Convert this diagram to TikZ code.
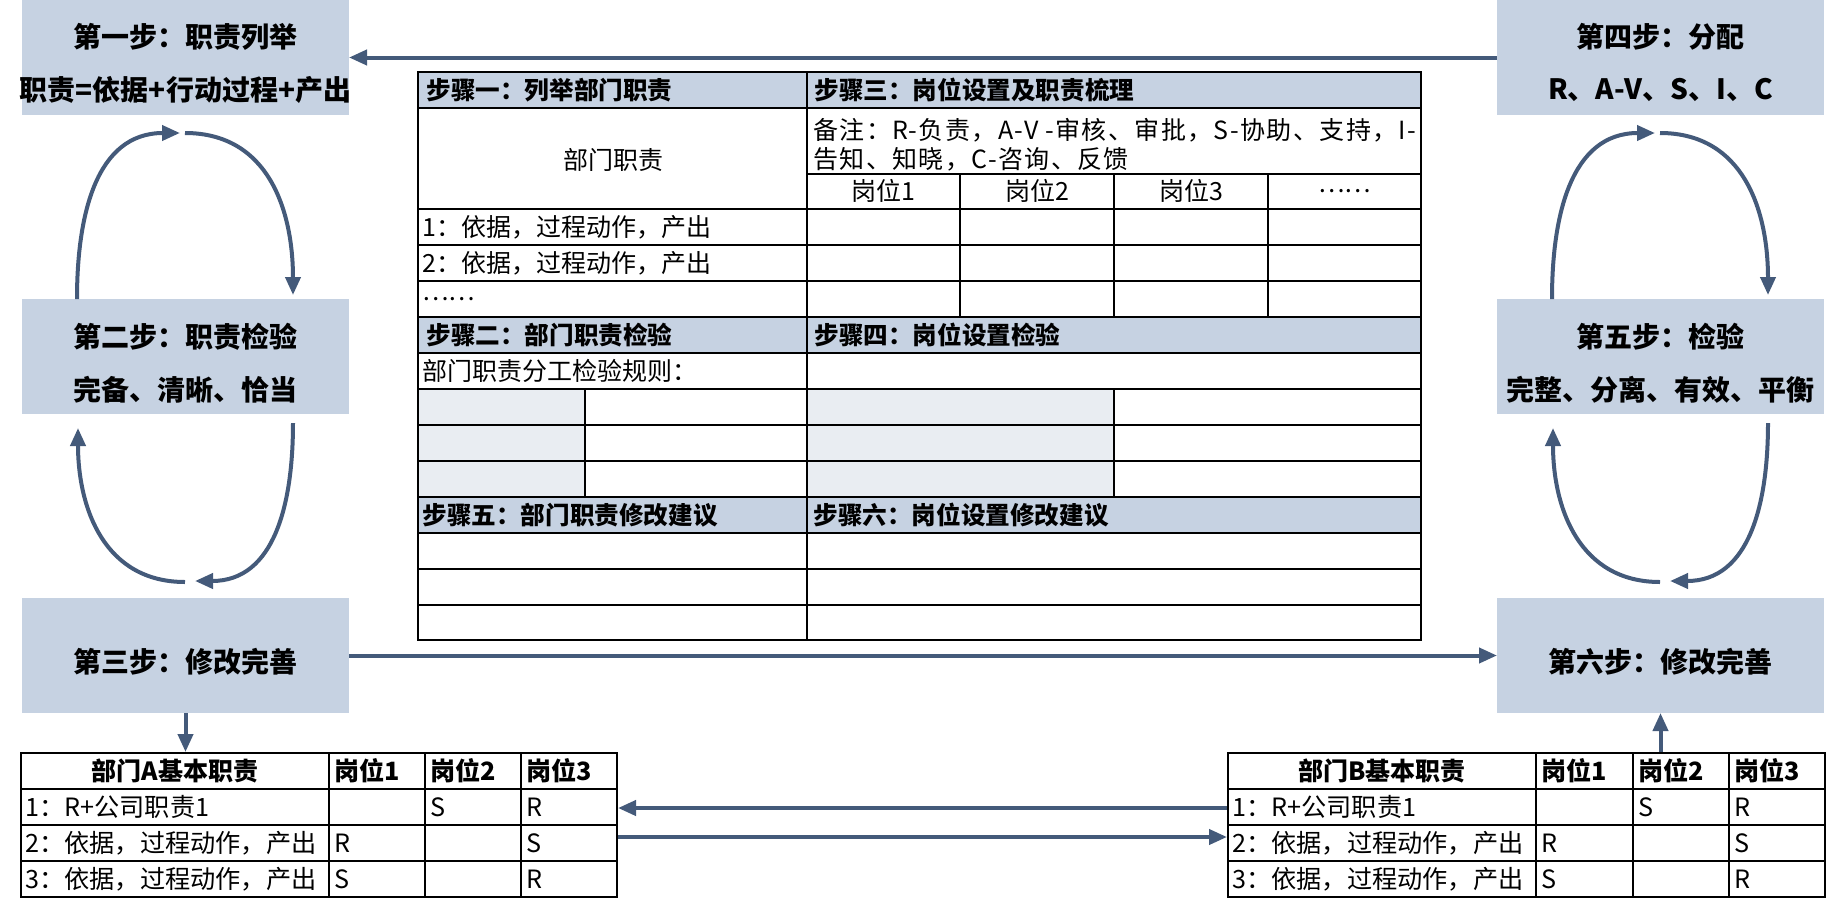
\documentclass[tikz,border=0pt]{standalone}
\usepackage{fontspec}
\setmainfont{Noto Sans CJK SC}
\usetikzlibrary{arrows.meta,calc}
\definecolor{boxc}{RGB}{198,210,226}
\definecolor{hdrc}{RGB}{198,210,226}
\definecolor{grayc}{RGB}{233,237,242}
\definecolor{arrc}{RGB}{68,90,122}
\begin{document}
\begin{tikzpicture}[x=0.5pt,y=-0.5pt,
  stepbox/.style={fill=boxc, minimum width=163.5pt, minimum height=57.5pt, inner sep=0pt, outer sep=0pt},
  boxtxt/.style={font=\fontsize{14}{16}\selectfont\bfseries, inner sep=0pt},
  arr/.style={draw=arrc, line width=2pt, -{Triangle[length=9pt,width=7.5pt]}},
  tline/.style={line width=1pt, line cap=rect},
  ttxt/.style={font=\fontsize{12.5}{14}\selectfont, inner sep=0pt, anchor=west},
  thdr/.style={font=\fontsize{12.3}{14}\selectfont\bfseries, inner sep=0pt, anchor=west},
  ctxt/.style={font=\fontsize{12.5}{14}\selectfont, inner sep=0pt},
  chdr/.style={font=\fontsize{12.5}{14}\selectfont\bfseries, inner sep=0pt},
  btxt/.style={font=\fontsize{12.6}{14}\selectfont, inner sep=0pt, anchor=west},
  bhdr/.style={font=\fontsize{12.6}{14}\selectfont\bfseries, inner sep=0pt, anchor=west},
  ntxt/.style={font=\fontsize{12.5}{14}\selectfont\addfontfeatures{LetterSpace=5.5}, inner sep=0pt, anchor=west},
  tbl/.style={draw, line width=1pt, inner sep=0pt, minimum height=72pt}
]
\useasboundingbox (0,0) rectangle (1838,911);

% step boxes
\node[stepbox] (b1) at (185.5,57.5) {};
\node[stepbox] (b2) at (185.5,356.5) {};
\node[stepbox] (b3) at (185.5,655.5) {};
\node[stepbox] (b4) at (1660.5,57.5) {};
\node[stepbox] (b5) at (1660.5,356.5) {};
\node[stepbox] (b6) at (1660.5,655.5) {};

\node[boxtxt] (b1a) at (185.5,37) {第一步：职责列举};
\node[boxtxt] (b1b) at (185.5,90) {职责=依据+行动过程+产出};
\node[boxtxt] (b2a) at (185.5,337) {第二步：职责检验};
\node[boxtxt] (b2b) at (185.5,390) {完备、清晰、恰当};
\node[boxtxt] (b3a) at (185.5,662) {第三步：修改完善};
\node[boxtxt] (b4a) at (1660.5,37) {第四步：分配};
\node[boxtxt] (b4b) at (1660.5,90) {R、A-V、S、I、C};
\node[boxtxt] (b5a) at (1660.5,337) {第五步：检验};
\node[boxtxt] (b5b) at (1660.5,390) {完整、分离、有效、平衡};
\node[boxtxt] (b6a) at (1660.5,662) {第六步：修改完善};

% cycle arcs
\foreach \ta/\tb/\tc in {b1/b2/b3,b4/b5/b6} {
  \draw[arr] ($(\tb.north west)+(55,0)$) to[out=90,in=180,looseness=1.1] ($(\ta.south west)+(158,18)$);
  \draw[arr] ($(\ta.south west)+(163,18)$) to[out=0,in=90,looseness=1.1] ($(\tb.north west)+(271,-4)$);
  \draw[arr] ($(\tb.south west)+(271,9)$) to[out=-90,in=0,looseness=1.1] ($(\tc.north west)+(173,-17)$);
  \draw[arr] ($(\tc.north west)+(163,-16)$) to[out=180,in=-90,looseness=1.1] ($(\tb.south west)+(56,14)$);
}

% long horizontal arrows
\draw[arr] (b4.west) -- (b1.east);
\draw[arr] (b3.east) -- (b6.west);

% ---------- centre table ----------
\fill[hdrc] (418,72) rectangle (1421,108);
\fill[hdrc] (418,317) rectangle (1421,353);
\fill[hdrc] (418,497) rectangle (1421,533);
\fill[grayc] (418,389) rectangle (585,497);
\fill[grayc] (807,389) rectangle (1114,497);
\foreach \yy in {72,108,209,245,281,317,353,389,425,461,497,533,569,605,640}
  \draw[tline] (418,\yy) -- (1421,\yy);
\draw[tline] (807,174) -- (1421,174);
\foreach \xx in {418,807,1421} \draw[tline] (\xx,72) -- (\xx,640);
\foreach \xx in {960,1114,1268} \draw[tline] (\xx,174) -- (\xx,317);
\foreach \xx in {585,1114} \draw[tline] (\xx,389) -- (\xx,497);

\node[thdr] (h1) at (426,90) {步骤一：列举部门职责};
\node[thdr] (h3) at (814,90) {步骤三：岗位设置及职责梳理};
\node[ctxt] (c0) at (613,160) {部门职责};
\node[ntxt] (n1) at (813,130) {备注：R-负责，A-V -审核、审批，S-协助、支持，I-};
\node[ntxt] (n2) at (813,159) {告知、知晓，C-咨询、反馈};
\node[ctxt] (g1) at (883.5,191) {岗位1};
\node[ctxt] (g2) at (1037,191) {岗位2};
\node[ctxt] (g3) at (1191,191) {岗位3};
\node[ctxt] (g4) at (1344.5,191) {……};
\node[ttxt] (r1) at (422,227) {1：依据，过程动作，产出};
\node[ttxt] (r2) at (422,263) {2：依据，过程动作，产出};
\node[ttxt] (r3) at (422,299) {……};
\node[thdr] (h2) at (426,335) {步骤二：部门职责检验};
\node[thdr] (h4) at (814,335) {步骤四：岗位设置检验};
\node[ttxt] (ru) at (422,371) {部门职责分工检验规则：};
\node[thdr] (h5) at (422,515) {步骤五：部门职责修改建议};
\node[thdr] (h6) at (813,515) {步骤六：岗位设置修改建议};

% ---------- bottom tables ----------
\node[tbl, minimum width=298pt] (tA) at (319,825) {};
\foreach \yy in {789,825,861} \draw[tline] (21,\yy) -- (617,\yy);
\foreach \xx in {329,425,521} \draw[tline] (\xx,753) -- (\xx,897);
\node[chdr] (ah) at (175,771) {部门A基本职责};
\node[bhdr] (ah1) at (334,771) {岗位1};
\node[bhdr] (ah2) at (430,771) {岗位2};
\node[bhdr] (ah3) at (526,771) {岗位3};
\node[btxt] (a1) at (25,807) {1：R+公司职责1};
\node[btxt] (a2) at (25,843) {2：依据，过程动作，产出};
\node[btxt] (a3) at (25,879) {3：依据，过程动作，产出};
\node[btxt] (a12) at (430,807) {S};
\node[btxt] (a13) at (526,807) {R};
\node[btxt] (a21) at (334,843) {R};
\node[btxt] (a23) at (526,843) {S};
\node[btxt] (a31) at (334,879) {S};
\node[btxt] (a33) at (526,879) {R};

\node[tbl, minimum width=298.5pt] (tB) at (1526.5,825) {};
\foreach \yy in {789,825,861} \draw[tline] (1228,\yy) -- (1825,\yy);
\foreach \xx in {1536,1633,1729} \draw[tline] (\xx,753) -- (\xx,897);
\node[chdr] (bh) at (1382,771) {部门B基本职责};
\node[bhdr] (bh1) at (1541,771) {岗位1};
\node[bhdr] (bh2) at (1638,771) {岗位2};
\node[bhdr] (bh3) at (1734,771) {岗位3};
\node[btxt] (c1) at (1232,807) {1：R+公司职责1};
\node[btxt] (c2) at (1232,843) {2：依据，过程动作，产出};
\node[btxt] (c3) at (1232,879) {3：依据，过程动作，产出};
\node[btxt] (c12) at (1638,807) {S};
\node[btxt] (c13) at (1734,807) {R};
\node[btxt] (c21) at (1541,843) {R};
\node[btxt] (c23) at (1734,843) {S};
\node[btxt] (c31) at (1541,879) {S};
\node[btxt] (c33) at (1734,879) {R};

% connectors to/between tables
\coordinate (ra) at (0,808);
\coordinate (rb) at (0,837);
\draw[arr] (b3.south) -- (b3.south |- tA.north);
\draw[arr] (b6.south |- tB.north) -- (b6.south);
\draw[arr] (tB.west |- ra) -- (tA.east |- ra);
\draw[arr] (tA.east |- rb) -- (tB.west |- rb);
\end{tikzpicture}
\end{document}
